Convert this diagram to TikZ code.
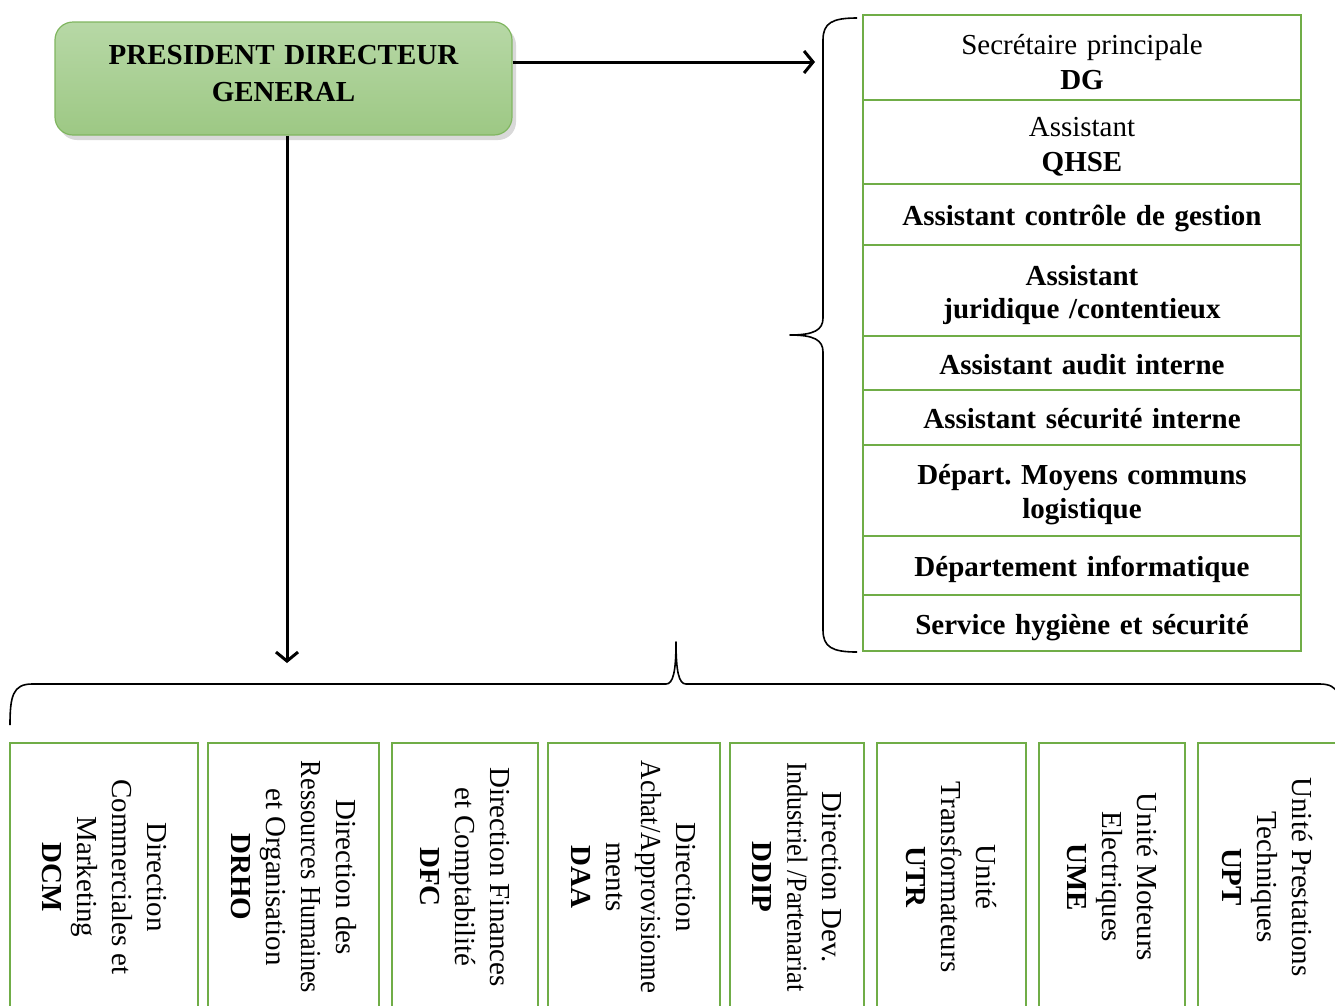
\documentclass[tikz,border=0pt]{standalone}
\usepackage{fontspec}
\setmainfont{Liberation Serif}
\usepackage{tikz}
\usetikzlibrary{
  arrows.meta,
  positioning,
  shadows
}
\frenchspacing
\definecolor{orggreen}{RGB}{112,173,71}
\definecolor{pdgtop}{RGB}{183,216,166}
\definecolor{pdgbottom}{RGB}{157,200,132}
\definecolor{pdgline}{RGB}{128,182,96}
\newcommand{\orgfont}{\fontsize{29}{35}\selectfont}
\tikzset{
  pdgbox/.style={draw=pdgline, line width=1.2pt, rounded corners=18pt,
    top color=pdgtop, bottom color=pdgbottom,
    drop shadow={opacity=0.3, shadow xshift=4pt, shadow yshift=-5pt},
    minimum width=457pt, minimum height=113pt, inner ysep=0pt,
    text width=440pt, text height=9pt,
    align=center, font=\fontsize{29}{36.5}\selectfont\bfseries},
  staffbox/.style={draw=orggreen, line width=2.5pt, outer sep=0pt,
    minimum width=438pt, inner ysep=0pt, text width=418pt, text height=29pt,
    align=center, font=\orgfont},
  oneline/.style={text depth=7pt, font=\orgfont\bfseries},
  unitbox/.style={draw=orggreen, line width=2.5pt, rotate=-90,
    minimum width=268pt, align=center, font=\orgfont},
  arr/.style={-{Straight Barb[length=9pt, width=22pt]}, line width=3pt},
  brc/.style={line width=1.6pt, line join=round},
}

\begin{document}
\begin{tikzpicture}[x=1pt, y=-1pt]
  \useasboundingbox (0,0) rectangle (1335,1005);
  \clip (0,0) rectangle (1335,1005);

  \node[pdgbox] (pdg) at (283.5,78.5) {PRESIDENT DIRECTEUR\\GENERAL};

  % Staff column
  \node[staffbox, anchor=north west, minimum height=85pt] (sec) at (863,15)
    {Secrétaire principale\\\textbf{DG}};
  \node[staffbox, minimum height=84pt, below=0pt of sec] (qhse)
    {Assistant\\\textbf{QHSE}};
  \node[staffbox, oneline, minimum height=61pt, below=0pt of qhse] (ctrl)
    {Assistant contrôle de gestion};
  \node[staffbox, minimum height=91pt, below=0pt of ctrl, font=\fontsize{29}{33}\selectfont\bfseries] (jur)
    {Assistant\\ juridique /contentieux};
  \node[staffbox, oneline, minimum height=54pt, below=0pt of jur] (audit)
    {Assistant audit interne};
  \node[staffbox, oneline, minimum height=55pt, below=0pt of audit] (secu)
    {Assistant sécurité interne};
  \node[staffbox, minimum height=91pt, below=0pt of secu, font=\fontsize{29}{34}\selectfont\bfseries] (moyens)
    {Départ. Moyens communs\\logistique};
  \node[staffbox, oneline, minimum height=59pt, below=0pt of moyens] (info)
    {Département informatique};
  \node[staffbox, oneline, minimum height=56pt, below=0pt of info] (hyg)
    {Service hygiène et sécurité};

  % Directions and units
  \node[unitbox, minimum height=188pt] (dcm) at (104,877)
    {Direction\\Commerciales et\\Marketing\\\textbf{DCM}};
  \node[unitbox, minimum height=171pt] (drho) at (293.5,877)
    {Direction des\\\scalebox{0.91}[1]{Ressources Humaines}\\et Organisation\\\textbf{DRHO}};
  \node[unitbox, minimum height=146pt] (dfc) at (465,877)
    {Direction Finances\\et Comptabilité\\\textbf{DFC}};
  \node[unitbox, minimum height=172pt] (daa) at (634,877)
    {Direction\\\scalebox{0.93}[1]{Achat/Approvisionne}\\ments\\\textbf{DAA}};
  \node[unitbox, minimum height=134pt] (ddip) at (797,877)
    {Direction Dev.\\\scalebox{0.91}[1]{Industriel /Partenariat}\\\textbf{DDIP}};
  \node[unitbox, minimum height=149pt] (utr) at (951.5,877)
    {Unité\\Transformateurs\\\textbf{UTR}};
  \node[unitbox, minimum height=146pt] (ume) at (1112,877)
    {Unité Moteurs\\Electriques\\\textbf{UME}};
  \node[unitbox, minimum height=139pt] (upt) at (1267.5,877)
    {Unité Prestations\\Techniques\\\textbf{UPT}};

  % Arrows
  \coordinate (hArrEnd) at (815,62);
  \coordinate (vArrEnd) at (287,663);
  \draw[arr] (pdg.east |- hArrEnd) -- (hArrEnd);
  \draw[arr] (pdg.south -| vArrEnd) -- (vArrEnd);

  % Braces
  \coordinate (rbTop) at (857,18);
  \coordinate (rbTip) at (790,335);
  \coordinate (rbBot) at (857,652);
  \draw[brc] (rbTop) .. controls (832,18) and (823,23) .. (823,40)
    -- (823,318) .. controls (823,330) and (814,335) .. (rbTip)
    .. controls (814,335) and (823,340) .. (823,352)
    -- (823,630) .. controls (823,647) and (832,652) .. (rbBot);
  \coordinate (bbLeft) at (10,725);
  \coordinate (bbTip) at (676,642);
  \coordinate (bbRight) at (1342,725);
  \draw[brc] (bbLeft) .. controls (10,696) and (13,684) .. (32,684)
    -- (666,684) .. controls (673,684) and (676,672) .. (bbTip)
    .. controls (676,672) and (679,684) .. (686,684)
    -- (1320,684) .. controls (1339,684) and (1342,696) .. (bbRight);
\end{tikzpicture}
\end{document}
